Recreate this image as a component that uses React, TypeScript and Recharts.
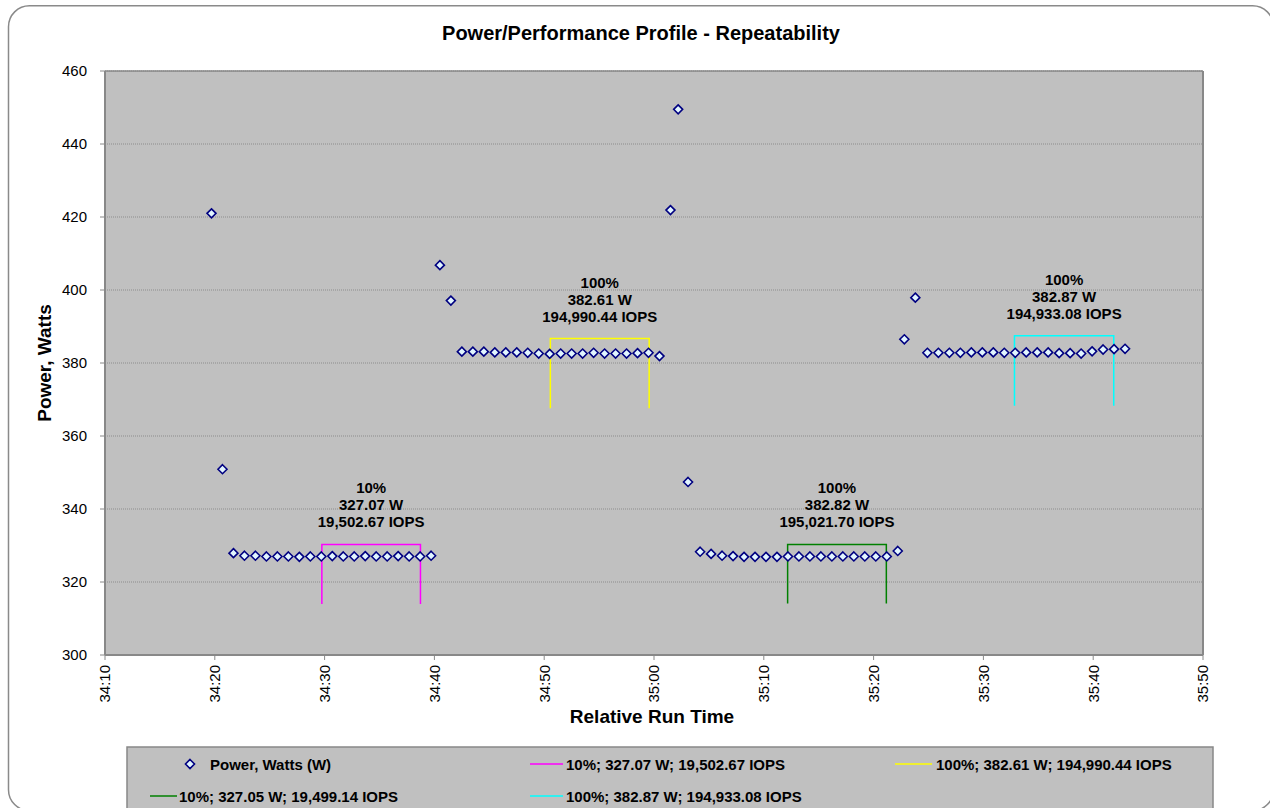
import React from "react";
import { CartesianGrid, ReferenceLine, Scatter, ScatterChart, XAxis, YAxis } from "recharts";

// time is seconds counted from 00:00 (34:10 = 2050 s)
const powerTimes = [
  2059.7, 2060.7, 2061.7, 2062.7, 2063.7, 2064.7, 2065.7, 2066.7, 2067.7, 2068.7, 2069.7,
  2070.7, 2071.7, 2072.7, 2073.7, 2074.7, 2075.7, 2076.7, 2077.7, 2078.7, 2079.7,
  2080.5, 2081.5, 2082.5, 2083.5, 2084.5, 2085.5, 2086.5, 2087.5, 2088.5, 2089.5, 2090.5,
  2091.5, 2092.5, 2093.5, 2094.5, 2095.5, 2096.5, 2097.5, 2098.5, 2099.5, 2100.5,
  2101.5, 2102.2, 2103.1, 2104.2, 2105.2, 2106.2, 2107.2, 2108.2, 2109.2, 2110.2, 2111.2,
  2112.2, 2113.2, 2114.2, 2115.2, 2116.2, 2117.2, 2118.2, 2119.2, 2120.2, 2121.2, 2122.2,
  2122.8, 2123.8, 2124.9, 2125.9, 2126.9, 2127.9, 2128.9, 2129.9, 2130.9, 2131.9, 2132.9,
  2133.9, 2134.9, 2135.9, 2136.9, 2137.9, 2138.9, 2139.9, 2140.9, 2141.9, 2142.9,
];

const powerWatts = [
  421.0, 350.9, 327.9, 327.2, 327.2, 327.0, 327.0, 327.0, 326.9, 327.0, 327.0,
  327.1, 327.0, 327.0, 327.1, 327.0, 327.0, 327.1, 327.0, 327.0, 327.2,
  406.8, 397.1, 383.1, 383.1, 383.1, 382.9, 382.9, 382.9, 382.8, 382.6, 382.5,
  382.6, 382.6, 382.6, 382.8, 382.6, 382.6, 382.6, 382.7, 382.8, 381.9,
  421.9, 449.5, 347.4, 328.3, 327.7, 327.2, 327.1, 326.9, 326.9, 326.9, 326.9,
  327.0, 327.0, 327.0, 327.0, 327.0, 327.0, 327.0, 327.0, 327.0, 327.0, 328.5,
  386.5, 397.9, 382.8, 382.8, 382.8, 382.8, 382.9, 382.9, 382.9, 382.8, 382.8,
  382.9, 382.9, 382.9, 382.7, 382.7, 382.6, 383.2, 383.7, 383.8, 383.9,
];

const bracketStart = [2069.75, 2090.56, 2112.17, 2132.83];
const bracketEnd = [2078.73, 2099.56, 2121.16, 2141.87];
const bracketTop = [330.3, 386.7, 330.3, 387.5];
const bracketBottom = [314.0, 367.6, 314.1, 368.3];
const bracketColors = ["#ff00ff", "#ffff00", "#008000", "#00ffff"];

const labelPct = ["10%", "100%", "100%", "100%"];
const labelWatts = ["327.07 W", "382.61 W", "382.82 W", "382.87 W"];
const labelIops = ["19,502.67 IOPS", "194,990.44 IOPS", "195,021.70 IOPS", "194,933.08 IOPS"];

const legendNames = [
  "10%; 327.07 W; 19,502.67 IOPS",
  "100%; 382.61 W; 194,990.44 IOPS",
  "10%; 327.05 W; 19,499.14 IOPS",
  "100%; 382.87 W; 194,933.08 IOPS",
];

const yTicks = [300, 320, 340, 360, 380, 400, 420, 440, 460];
const xTicks = [2050, 2060, 2070, 2080, 2090, 2100, 2110, 2120, 2130, 2140, 2150];

const ARIAL = "'Liberation Sans', Arial, sans-serif";

const powerData = powerTimes.map((t, i) => ({ t, w: powerWatts[i] }));
const bracketData = bracketStart.map((s, i) => [
  { t: s, w: bracketBottom[i] },
  { t: s, w: bracketTop[i] },
  { t: bracketEnd[i], w: bracketTop[i] },
  { t: bracketEnd[i], w: bracketBottom[i] },
]);
const labelData = bracketStart.map((s, i) => ({
  t: (s + bracketEnd[i]) / 2,
  w: bracketTop[i],
  pct: labelPct[i],
  watts: labelWatts[i],
  iops: labelIops[i],
}));

function fmtTime(v: number) {
  const m = Math.floor(v / 60);
  const s = Math.round(v - m * 60);
  return `${m}:${String(s).padStart(2, "0")}`;
}

function Diamond({ cx, cy }: any) {
  const r = 4.5;
  return (
    <polygon
      points={`${cx},${cy - r} ${cx + r},${cy} ${cx},${cy + r} ${cx - r},${cy}`}
      fill="#e2f6ff"
      stroke="#000080"
      strokeWidth={1.6}
    />
  );
}

function BracketLabel({ cx, cy, payload }: any) {
  const style = { fontFamily: ARIAL, fontSize: 15, fontWeight: 700, fill: "#000" };
  return (
    <g>
      <text x={cx} y={cy - 51} textAnchor="middle" {...style}>{payload.pct}</text>
      <text x={cx} y={cy - 34} textAnchor="middle" {...style}>{payload.watts}</text>
      <text x={cx} y={cy - 17} textAnchor="middle" {...style}>{payload.iops}</text>
    </g>
  );
}

function TimeTick({ x, y, payload }: any) {
  return (
    <g transform={`translate(${x},${y}) rotate(-90)`}>
      <text x={0} y={0} dy="0.36em" textAnchor="end" fontSize={15} fontFamily={ARIAL} fill="#000">
        {fmtTime(payload.value)}
      </text>
    </g>
  );
}

function LegendLine({ x1, x2, y, color }: { x1: number; x2: number; y: number; color: string }) {
  return <line x1={x1} x2={x2} y1={y} y2={y} stroke={color} strokeWidth={1.5} />;
}

export default function App() {
  const legendText = { fontFamily: ARIAL, fontSize: 15, fontWeight: 700, fill: "#000", dominantBaseline: "central" as const };
  return (
    <div style={{ position: "absolute", left: 0, top: 0, width: 1270, height: 808, overflow: "hidden", background: "#fff" }}>
      <svg width={1270} height={808} style={{ position: "absolute", left: 0, top: 0 }}>
        <rect x={8.5} y={5.7} width={1265} height={805} rx={21} ry={21} fill="#fff" stroke="#8a8a8a" strokeWidth={1.5} />
        <text x={641} y={40} textAnchor="middle" fontFamily={ARIAL} fontSize={20} fontWeight={700}>
          Power/Performance Profile - Repeatability
        </text>
        <text
          x={44}
          y={363}
          textAnchor="middle"
          dominantBaseline="central"
          transform="rotate(-90, 44, 363)"
          fontFamily={ARIAL}
          fontSize={19}
          fontWeight={700}
        >
          Power, Watts
        </text>
        <text x={652} y={716} textAnchor="middle" dominantBaseline="central" fontFamily={ARIAL} fontSize={19} fontWeight={700}>
          Relative Run Time
        </text>
      </svg>

      <div style={{ position: "absolute", left: 0, top: 0 }}>
        <ScatterChart width={1270} height={808} margin={{ top: 71, right: 67, bottom: 93, left: 45 }}>
          <CartesianGrid vertical={false} fill="#c0c0c0" fillOpacity={1} stroke="#8c8c8c" strokeDasharray="1 1" />
          <XAxis
            type="number"
            dataKey="t"
            domain={[2050, 2150]}
            ticks={xTicks}
            interval={0}
            height={60}
            tickSize={5}
            tickMargin={5}
            tick={<TimeTick />}
            axisLine={{ stroke: "#888", strokeWidth: 2 }}
            tickLine={{ stroke: "#888" }}
            allowDataOverflow
          />
          <YAxis
            type="number"
            dataKey="w"
            domain={[300, 460]}
            ticks={yTicks}
            interval={0}
            width={60}
            tickSize={5}
            tickMargin={13}
            tick={{ fontSize: 15, fontFamily: ARIAL, fill: "#000" }}
            axisLine={{ stroke: "#888", strokeWidth: 2 }}
            tickLine={{ stroke: "#888" }}
            allowDataOverflow
          />
          <ReferenceLine y={460} stroke="#888" strokeWidth={1.5} />
          <ReferenceLine x={2150} stroke="#888" strokeWidth={2} />
          {bracketData.map((d, i) => (
            <Scatter
              key={i}
              data={d}
              line={{ stroke: bracketColors[i], strokeWidth: 1.5 }}
              shape={() => <g />}
              isAnimationActive={false}
            />
          ))}
          <Scatter data={powerData} shape={<Diamond />} isAnimationActive={false} />
          <Scatter data={labelData} shape={<BracketLabel />} isAnimationActive={false} />
        </ScatterChart>
      </div>

      <svg width={1270} height={808} style={{ position: "absolute", left: 0, top: 0, pointerEvents: "none" }}>
        <rect x={127} y={747} width={1086} height={90} fill="#c0c0c0" stroke="#888" strokeWidth={1.5} />
        <Diamond cx={190} cy={764} />
        <text x={210} y={764} {...legendText}>Power, Watts (W)</text>
        <LegendLine x1={530} x2={563} y={764} color={bracketColors[0]} />
        <text x={566} y={764} {...legendText}>{legendNames[0]}</text>
        <LegendLine x1={895} x2={932} y={764} color={bracketColors[1]} />
        <text x={936} y={764} {...legendText}>{legendNames[1]}</text>
        <LegendLine x1={150} x2={177} y={796} color={bracketColors[2]} />
        <text x={179} y={796} {...legendText}>{legendNames[2]}</text>
        <LegendLine x1={530} x2={563} y={796} color={bracketColors[3]} />
        <text x={566} y={796} {...legendText}>{legendNames[3]}</text>
      </svg>
    </div>
  );
}
